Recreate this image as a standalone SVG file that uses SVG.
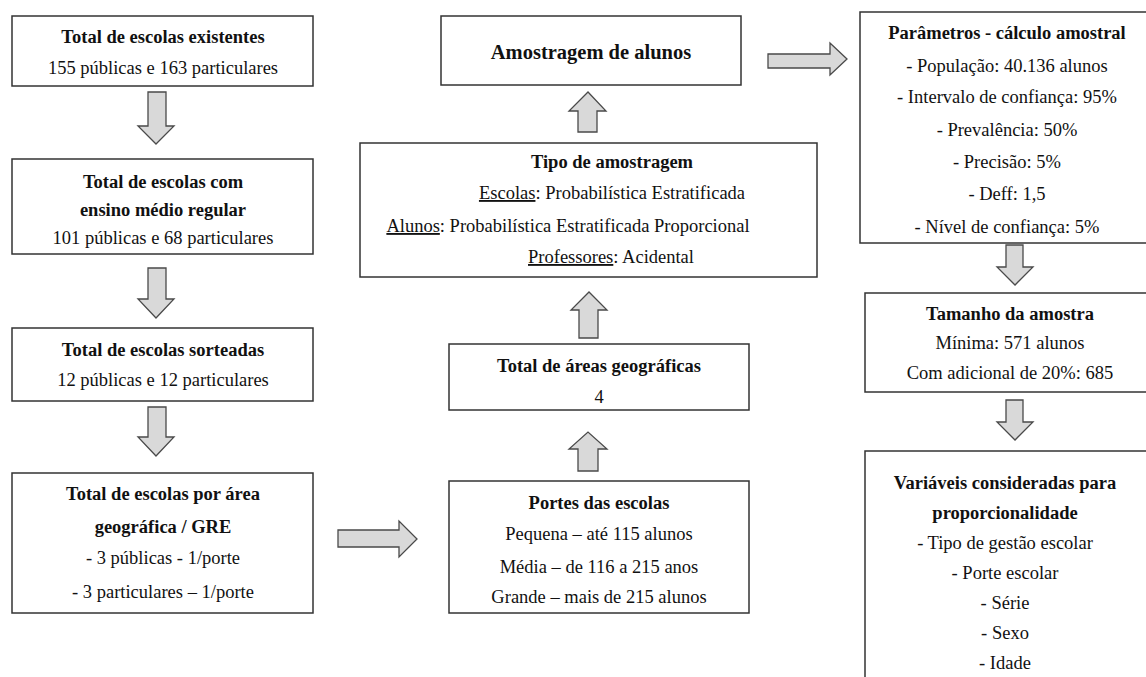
<svg xmlns="http://www.w3.org/2000/svg" width="1146" height="677" viewBox="0 0 1146 677">
<style>
.box{fill:#fff;stroke:#333;stroke-width:1.5}
.arr{fill:#d9d9d9;stroke:#4a4a4a;stroke-width:1.3;stroke-linejoin:miter}
text{font-family:"Liberation Serif","Times New Roman",serif;font-size:18.5px;fill:#111;text-anchor:middle}
.b{font-weight:bold}
.big{font-size:20.5px;font-weight:bold}
.u{text-decoration:underline}
</style>
<rect width="1146" height="677" fill="#fff"/>
<g id="connectors">
<polygon class="arr" points="148,92 166,92 166,126 174,126 156,144 138,126 148,126"/>
<polygon class="arr" points="148,268 166,268 166,299 174,299 156,318 138,299 148,299"/>
<polygon class="arr" points="148,407 166,407 166,437 174,437 156,456 138,437 148,437"/>
<polygon class="arr" points="338,530 399,530 399,521 417,539 399,557 399,547 338,547"/>
<polygon class="arr" points="578,471 598,471 598,449 607,449 588,432 569,449 578,449"/>
<polygon class="arr" points="579,338 598,338 598,310 607,310 589,292 571,310 579,310"/>
<polygon class="arr" points="578,132 597,132 597,111 606,111 588,92 569,111 578,111"/>
<polygon class="arr" points="768,54 830,54 830,43 847,59 830,75 830,68 768,68"/>
<polygon class="arr" points="1006,245 1023,245 1023,267 1033,267 1015,285 997,267 1006,267"/>
<polygon class="arr" points="1006,400 1023,400 1023,422 1033,422 1015,440 997,422 1006,422"/>
</g>
<g id="n1">
<rect class="box" x="12" y="16" width="301" height="70"/>
<text x="163" y="43" class="b">Total de escolas existentes</text>
<text x="163" y="74">155 públicas e 163 particulares</text>
</g>
<g id="n2">
<rect class="box" x="12" y="159" width="301" height="95"/>
<text x="163" y="188" class="b">Total de escolas com</text>
<text x="163" y="216" class="b">ensino médio regular</text>
<text x="163" y="244">101 públicas e 68 particulares</text>
</g>
<g id="n3">
<rect class="box" x="12" y="328" width="301" height="73"/>
<text x="163" y="356" class="b">Total de escolas sorteadas</text>
<text x="163" y="386">12 públicas e 12 particulares</text>
</g>
<g id="n4">
<rect class="box" x="12" y="473" width="301" height="140"/>
<text x="163" y="500" class="b">Total de escolas por área</text>
<text x="163" y="533" class="b">geográfica / GRE</text>
<text x="163" y="564">- 3 públicas - 1/porte</text>
<text x="163" y="598">- 3 particulares – 1/porte</text>
</g>
<g id="n5">
<rect class="box" x="449" y="481" width="300" height="132"/>
<text x="599" y="509" class="b">Portes das escolas</text>
<text x="599" y="540">Pequena – até 115 alunos</text>
<text x="599" y="573">Média – de 116 a 215 anos</text>
<text x="599" y="603">Grande – mais de 215 alunos</text>
</g>
<g id="n6">
<rect class="box" x="449" y="344" width="300" height="66"/>
<text x="599" y="372" class="b">Total de áreas geográficas</text>
<text x="599" y="403">4</text>
</g>
<g id="n7">
<rect class="box" x="360" y="143" width="457" height="134"/>
<text x="612" y="168" class="b">Tipo de amostragem</text>
<text x="612" y="199"><tspan class="u">Escolas</tspan>: Probabilística Estratificada</text>
<text x="568" y="232"><tspan class="u">Alunos</tspan>: Probabilística Estratificada Proporcional</text>
<text x="611" y="263"><tspan class="u">Professores</tspan>: Acidental</text>
</g>
<g id="n8">
<rect class="box" x="441" y="16" width="300" height="69"/>
<text x="591" y="59" class="big">Amostragem de alunos</text>
</g>
<g id="n9">
<rect class="box" x="860" y="12" width="300" height="231"/>
<text x="1007" y="39" class="b">Parâmetros - cálculo amostral</text>
<text x="1007" y="72">- População: 40.136 alunos</text>
<text x="1007" y="103">- Intervalo de confiança: 95%</text>
<text x="1007" y="136">- Prevalência: 50%</text>
<text x="1007" y="168">- Precisão: 5%</text>
<text x="1007" y="200">- Deff: 1,5</text>
<text x="1007" y="233">- Nível de confiança: 5%</text>
</g>
<g id="n10">
<rect class="box" x="865" y="293" width="300" height="99"/>
<text x="1010" y="320" class="b">Tamanho da amostra</text>
<text x="1010" y="349">Mínima: 571 alunos</text>
<text x="1010" y="379">Com adicional de 20%: 685</text>
</g>
<g id="n11">
<rect class="box" x="865" y="451" width="300" height="240"/>
<text x="1005" y="489" class="b">Variáveis consideradas para</text>
<text x="1005" y="519" class="b">proporcionalidade</text>
<text x="1005" y="549">- Tipo de gestão escolar</text>
<text x="1005" y="579">- Porte escolar</text>
<text x="1005" y="609">- Série</text>
<text x="1005" y="639">- Sexo</text>
<text x="1005" y="669">- Idade</text>
</g>
</svg>
